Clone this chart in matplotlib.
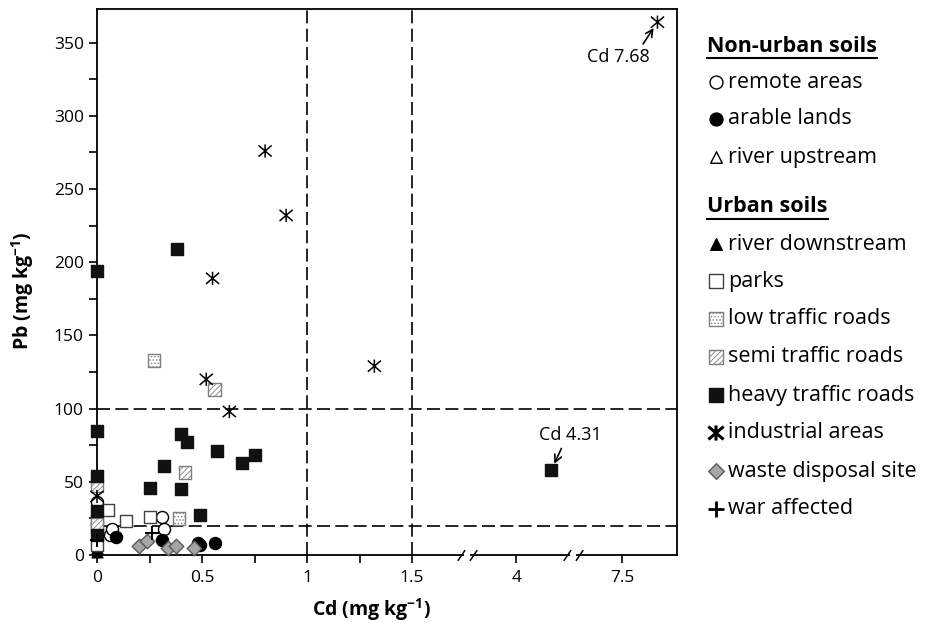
import numpy as np
import matplotlib
matplotlib.use('Agg')
import matplotlib.pyplot as plt
from matplotlib.path import Path

plt.rcParams['font.family'] = ['Open Sans', 'DejaVu Sans']
plt.rcParams['mathtext.fontset'] = 'custom'
plt.rcParams['mathtext.rm'] = 'Open Sans'
plt.rcParams['mathtext.bf'] = 'Open Sans:bold'
plt.rcParams['hatch.linewidth'] = 0.6

# ---- data (Cd, Pb in mg/kg) ----
remote_cd = [0, 0.06, 0.07, 0.31, 0.32]
remote_pb = [36, 14, 17.5, 26, 17.5]
arable_cd = [0.09, 0.31, 0.48, 0.49, 0.56]
arable_pb = [12, 10, 8.4, 7, 8]
upstream_cd = [0, 0]
upstream_pb = [8, 17]
downstream_cd = [0, 0, 0]
downstream_pb = [12, 5, 2]
parks_cd = [0.05, 0.14, 0.25, 0, 0]
parks_pb = [31, 23, 26, 19, 6.5]
low_cd = [0.27, 0.39, 0]
low_pb = [133, 25, 24]
semi_cd = [0.56, 0.42, 0, 0]
semi_pb = [113, 56.5, 47, 21]
heavy_cd = [0, 0.38, 0, 0.40, 0.43, 0.57, 0.75, 0.69, 0.32, 0, 0.25, 0.40, 0.49, 0, 0, 4.31]
heavy_pb = [194, 209, 85, 83, 77, 71, 68, 63, 61, 54, 46, 45, 27, 30, 14, 58]
industrial_cd = [7.68, 0.80, 0.90, 0.55, 1.32, 0.52, 0.63, 0]
industrial_pb = [364, 276, 232, 189, 129, 120, 98, 40]
waste_cd = [0.20, 0.24, 0.34, 0.375, 0.46]
waste_pb = [6, 9.5, 4.5, 6, 5]
war_cd = [0.26, 0]
war_pb = [15, 10]

x_ticks = [0, 0.5, 1, 1.5, 4, 7.5]
x_ticklabels = ['0', '0.5', '1', '1.5', '4', '7.5']
x_minor = [0.25, 0.75, 1.25]
thresh_cd = [1, 1.5]
thresh_pb = [20, 100]

# broken x axis: value -> position knots
scale_val = [-1, 0, 1.5, 3.7, 4.5, 7.35, 7.9, 20]
scale_pos = [-1, 0, 1.5, 1.833, 2.265, 2.3605, 2.872, 14.1]


def fwd(v):
    return np.interp(v, scale_val, scale_pos)


def inv(p):
    return np.interp(p, scale_pos, scale_val)


# X with a vertical bar, like the industrial marker in the source
star = Path([(-1, -0.85), (1, 0.85), (-1, 0.85), (1, -0.85), (0, -1), (0, 1)],
            [Path.MOVETO, Path.LINETO, Path.MOVETO, Path.LINETO, Path.MOVETO, Path.LINETO])

styles = {
    'remote areas': dict(marker='o', facecolors='white', edgecolors='black', s=75, linewidths=1),
    'arable lands': dict(marker='o', facecolors='black', edgecolors='black', s=75, linewidths=1),
    'river upstream': dict(marker='^', facecolors='white', edgecolors='black', s=60, linewidths=1),
    'river downstream': dict(marker='^', facecolors='black', edgecolors='black', s=60, linewidths=1),
    'parks': dict(marker='s', facecolors='white', edgecolors='#404040', s=80, linewidths=1),
    'low traffic roads': dict(marker='s', facecolors='white', edgecolors='#7f7f7f', s=80, linewidths=1, hatch='.....'),
    'semi traffic roads': dict(marker='s', facecolors='white', edgecolors='#7f7f7f', s=80, linewidths=1, hatch='//////'),
    'heavy traffic roads': dict(marker='s', facecolors='#111111', edgecolors='#111111', s=80, linewidths=1),
    'industrial areas': dict(marker=star, facecolors='none', edgecolors='black', s=90, linewidths=1.1),
    'waste disposal site': dict(marker='D', facecolors='#a6a6a6', edgecolors='#595959', s=55, linewidths=1),
    'war affected': dict(marker='+', facecolors='black', edgecolors='black', s=110, linewidths=1.4),
}
legend_style = {'industrial areas': dict(s=120, linewidths=2.2), 'war affected': dict(s=130, linewidths=2)}
series = [
    ('remote areas', remote_cd, remote_pb),
    ('arable lands', arable_cd, arable_pb),
    ('river upstream', upstream_cd, upstream_pb),
    ('river downstream', downstream_cd, downstream_pb),
    ('parks', parks_cd, parks_pb),
    ('low traffic roads', low_cd, low_pb),
    ('semi traffic roads', semi_cd, semi_pb),
    ('heavy traffic roads', heavy_cd, heavy_pb),
    ('industrial areas', industrial_cd, industrial_pb),
    ('waste disposal site', waste_cd, waste_pb),
    ('war affected', war_cd, war_pb),
]

fig = plt.figure(figsize=(9.3, 6.23), dpi=100)
W, H = 930, 623
ax = fig.add_axes([97 / W, 1 - 555 / H, (677 - 97) / W, (555 - 9) / H])
ax.set_xscale('function', functions=(fwd, inv))
ax.set_xlim(0, 7.78)
ax.set_ylim(0, 373)

for v in thresh_cd:
    ax.axvline(v, color='black', lw=1.2, ls=(0, (7.8, 3.2)), zorder=1)
for v in thresh_pb:
    ax.axhline(v, color='black', lw=1.2, ls=(0, (7.8, 3.2)), zorder=1)

for name, xs, ys in series:
    ax.scatter(xs, ys, clip_on=False, zorder=3, **styles[name])

ax.set_xticks(x_ticks)
ax.set_xticklabels(x_ticklabels)
ax.set_xticks(x_minor, minor=True)
ax.set_yticks(np.arange(0, 351, 50))
ax.set_yticks(np.arange(25, 351, 50), minor=True)
ax.tick_params(which='both', direction='out', length=6, width=1.2, labelsize=12.5, colors='black')
ax.tick_params(axis='x', pad=5)
for sp in ax.spines.values():
    sp.set_linewidth(1.3)

# axis breaks
p = [fwd(v) for v in x_ticks]
breaks = [inv((p[3] + p[4]) / 2 + 0.012), inv((p[4] + p[5]) / 2 + 0.02)]
slash = Path([(-1, -0.55), (-0.25, 0.55), (0.25, -0.55), (1, 0.55)],
             [Path.MOVETO, Path.LINETO, Path.MOVETO, Path.LINETO])
for b in breaks:
    ax.plot([b], [0], transform=ax.get_xaxis_transform(), marker='_', ms=4.5, mew=4,
            color='white', clip_on=False, zorder=5)
    ax.plot([b], [0], transform=ax.get_xaxis_transform(), marker=slash, ms=14, mew=1.1,
            color='black', fillstyle='none', clip_on=False, zorder=6)

ax.annotate('Cd 7.68', xy=(7.68, 364), xytext=(-28, -25), textcoords='offset points',
            ha='center', va='center', fontsize=13,
            arrowprops=dict(arrowstyle='->', color='black', lw=1.2, relpos=(0.85, 1.0),
                            shrinkA=1, shrinkB=5))
ax.annotate('Cd 4.31', xy=(4.31, 58), xytext=(14, 25), textcoords='offset points',
            ha='center', va='center', fontsize=13,
            arrowprops=dict(arrowstyle='->', color='black', lw=1.2, relpos=(0.38, 0.0),
                            shrinkA=1, shrinkB=5))

ax.set_xlabel('Cd (mg kg$^{\\mathbf{-1}}$)', fontsize=14, fontweight='bold')
ax.xaxis.set_label_coords(0.474, -0.075)
ax.set_ylabel('Pb (mg kg$^{\\mathbf{-1}}$)', fontsize=14, fontweight='bold')
ax.yaxis.set_label_coords(-0.105, 0.485)

# legend drawn in pixel coordinates
lax = fig.add_axes([0, 0, 1, 1])
lax.set_xlim(0, W)
lax.set_ylim(H, 0)
lax.axis('off')
headers = [('Non-urban soils', 46), ('Urban soils', 207)]
rows = [('remote areas', 82), ('arable lands', 119), ('river upstream', 157),
        ('river downstream', 244), ('parks', 281), ('low traffic roads', 319),
        ('semi traffic roads', 357), ('heavy traffic roads', 395),
        ('industrial areas', 433), ('waste disposal site', 471), ('war affected', 509)]
htexts = []
for txt, y in headers:
    htexts.append(lax.text(707, y, txt, fontsize=15.5, fontweight='bold', va='center', ha='left'))
for name, y in rows:
    st = dict(styles[name])
    st['s'] = st['s'] * 1.15
    st.update(legend_style.get(name, {}))
    lax.scatter([716], [y], **st)
    lax.text(728, y, name, fontsize=15.5, va='center', ha='left')

fig.canvas.draw()
r = fig.canvas.get_renderer()
for t in htexts:
    bb = t.get_window_extent(r)
    y0 = H - bb.y0 + 1
    lax.plot([bb.x0, bb.x1], [y0, y0], color='black', lw=1.5)

fig.savefig('out.png', dpi=100)
